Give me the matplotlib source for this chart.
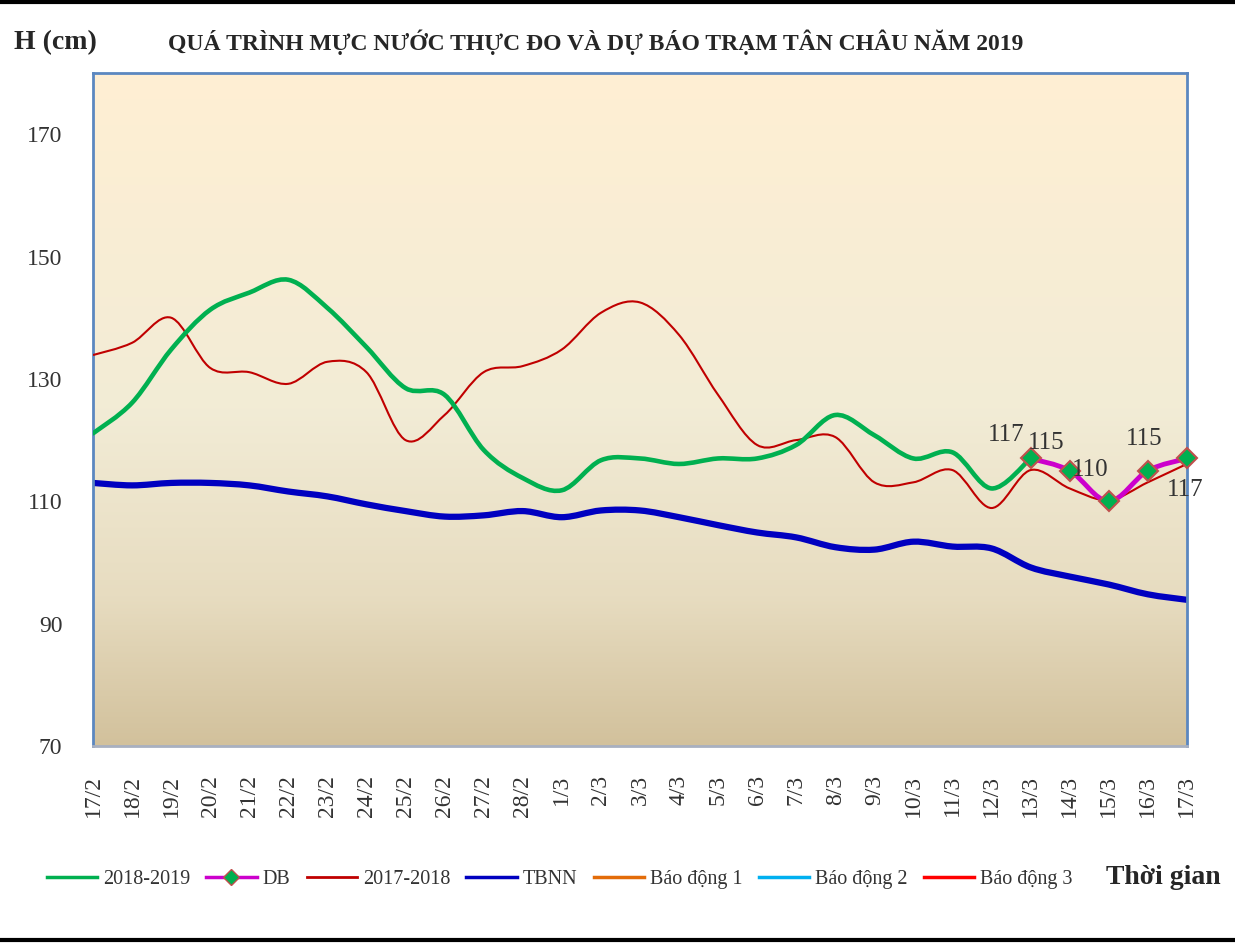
import numpy as np
import matplotlib
matplotlib.use("Agg")
import matplotlib.pyplot as plt
from matplotlib.path import Path
from matplotlib.patches import PathPatch
from matplotlib.lines import Line2D
from matplotlib.colors import LinearSegmentedColormap

plt.rcParams['font.family'] = ['Liberation Serif', 'DejaVu Serif']

# ngay do
days = ['17/2', '18/2', '19/2', '20/2', '21/2', '22/2', '23/2', '24/2', '25/2',
        '26/2', '27/2', '28/2', '1/3', '2/3', '3/3', '4/3', '5/3', '6/3', '7/3',
        '8/3', '9/3', '10/3', '11/3', '12/3', '13/3', '14/3', '15/3', '16/3', '17/3']

# 2018-2019 thuc do (den 13/3)
h_2019 = [121.1, 126.1, 134.8, 141.3, 144.1, 146.2, 141.6, 135.2, 128.5, 127.4,
          118.4, 113.8, 111.8, 116.7, 117.0, 116.1, 117.0, 117.0, 119.2, 124.1,
          120.8, 117.0, 118.0, 112.1, 117.0]

# du bao 13/3 - 17/3
db_days = ['13/3', '14/3', '15/3', '16/3', '17/3']
h_db = [117, 115, 110, 115, 117]

h_2018 = [133.9, 135.9, 140.0, 131.8, 131.1, 129.2, 132.8, 131.1, 120.0, 124.1,
          131.1, 132.1, 134.8, 140.8, 142.5, 137.2, 127.4, 119.2, 120.0, 120.5,
          113.1, 113.1, 115.1, 108.9, 115.1, 112.1, 110.2, 113.1, 116.1]

h_tbnn = [113.0, 112.6, 113.0, 113.0, 112.6, 111.6, 110.8, 109.5, 108.4, 107.5,
          107.7, 108.4, 107.4, 108.5, 108.5, 107.4, 106.1, 104.9, 104.1, 102.5,
          102.1, 103.4, 102.6, 102.3, 99.2, 97.7, 96.4, 94.8, 93.9]

# vi tri nhan so lieu (pixel) cho DB
db_lbl_off = [(-24, 23), (-23, 28), (-19, 31), (-4, 32), (-2, -32)]


def smooth_path(x, y):
    # duong cong kieu Excel (Bezier)
    x = np.asarray(x, float)
    y = np.asarray(y, float)
    n = len(x)
    verts = [(x[0], y[0])]
    codes = [Path.MOVETO]
    for i in range(n - 1):
        p0 = np.array([x[max(i - 1, 0)], y[max(i - 1, 0)]])
        p1 = np.array([x[i], y[i]])
        p2 = np.array([x[i + 1], y[i + 1]])
        p3 = np.array([x[min(i + 2, n - 1)], y[min(i + 2, n - 1)]])
        c1 = p1 + (p2 - p0) / 6.0
        c2 = p2 - (p3 - p1) / 6.0
        verts += [tuple(c1), tuple(c2), tuple(p2)]
        codes += [Path.CURVE4] * 3
    return Path(verts, codes)


fig = plt.figure(figsize=(12.35, 9.44), dpi=100)
ax = fig.add_axes([0.0753, 0.2097, 0.8857, 0.713])

xi = np.arange(len(days))
ax.set_xlim(0, len(days) - 1)
ax.set_ylim(70, 180)

# nen gradient
cmap = LinearSegmentedColormap.from_list(
    'bg', [(0, '#D2C19C'), (0.22, '#E7DCC0'), (0.5, '#F2ECD6'), (1, '#FFEFD3')])
grad = np.linspace(0, 1, 256).reshape(-1, 1)
ax.imshow(grad, extent=[0, len(days) - 1, 70, 180], origin='lower',
          aspect='auto', cmap=cmap, zorder=0)

c_green = '#00B050'
c_mag = '#CC00CC'
c_red = '#C00000'
c_blue = '#0000C0'

ax.add_patch(PathPatch(smooth_path(xi, h_tbnn), fill=False, ec=c_blue,
                       lw=4.5, capstyle='round', zorder=2))
ax.add_patch(PathPatch(smooth_path(xi, h_2018), fill=False, ec=c_red,
                       lw=1.5, zorder=3))
ax.add_patch(PathPatch(smooth_path(xi[:len(h_2019)], h_2019), fill=False,
                       ec=c_green, lw=3.3, capstyle='round', zorder=4))
db_x = [days.index(d) for d in db_days]
ax.add_patch(PathPatch(smooth_path(db_x, h_db), fill=False, ec=c_mag,
                       lw=3.5, zorder=5))
ax.plot(db_x, h_db, ls='none', marker='D', ms=10, mfc=c_green, mec='#C0504D',
        mew=1.5, zorder=6, clip_on=False)

for xv, yv, off in zip(db_x, h_db, db_lbl_off):
    ax.annotate(str(yv), (xv, yv), xytext=off, textcoords='offset pixels',
                ha='center', va='center', fontsize=18, color='#333333', zorder=7)

ax.set_yticks([70, 90, 110, 130, 150, 170])
ax.set_xticks(xi)
ax.set_xticklabels(days, rotation=90)
ax.tick_params(axis='both', length=0, labelsize=17, labelcolor='#333333')
ax.tick_params(axis='y', pad=22)
ax.tick_params(axis='x', pad=21)

for s in ['left', 'right', 'top']:
    ax.spines[s].set_color('#5B87C0')
    ax.spines[s].set_linewidth(2)
ax.spines['bottom'].set_color('#A8B0C0')
ax.spines['bottom'].set_linewidth(2)

fig.text(0.045, 0.955, 'H (cm)', fontsize=20, fontweight='bold',
         color='#262626', ha='center', va='center')
fig.text(0.482, 0.955, 'QUÁ TRÌNH MỰC NƯỚC THỰC ĐO VÀ DỰ BÁO TRẠM TÂN CHÂU NĂM 2019',
         fontsize=17, fontweight='bold', color='#262626', ha='center', va='center')

handles = [
    Line2D([], [], color=c_green, lw=2.5),
    Line2D([], [], color=c_mag, lw=2.5, marker='D', ms=8, mfc=c_green, mec='#C0504D'),
    Line2D([], [], color=c_red, lw=2),
    Line2D([], [], color=c_blue, lw=2.5),
    Line2D([], [], color='#E36C09', lw=2.5),
    Line2D([], [], color='#00B0F0', lw=2.5),
    Line2D([], [], color='#FF0000', lw=2.5),
]
names = ['2018-2019', 'DB', '2017-2018', 'TBNN', 'Báo động 1', 'Báo động 2', 'Báo động 3']
fig.legend(handles, names, loc='center left', bbox_to_anchor=(0.023, 0.068),
           ncol=7, frameon=False, fontsize=14.5, handlelength=2.5,
           handletextpad=0.3, columnspacing=0.8, labelcolor='#333333')
fig.text(0.988, 0.07, 'Thời gian', fontsize=20, fontweight='bold',
         color='#262626', ha='right', va='center')

# vien den tren / duoi
fig.add_artist(Line2D([0, 1], [0.998, 0.998], color='black', lw=3, transform=fig.transFigure))
fig.add_artist(Line2D([0, 1], [0.004, 0.004], color='black', lw=3, transform=fig.transFigure))

fig.savefig('out.png', dpi=100)
